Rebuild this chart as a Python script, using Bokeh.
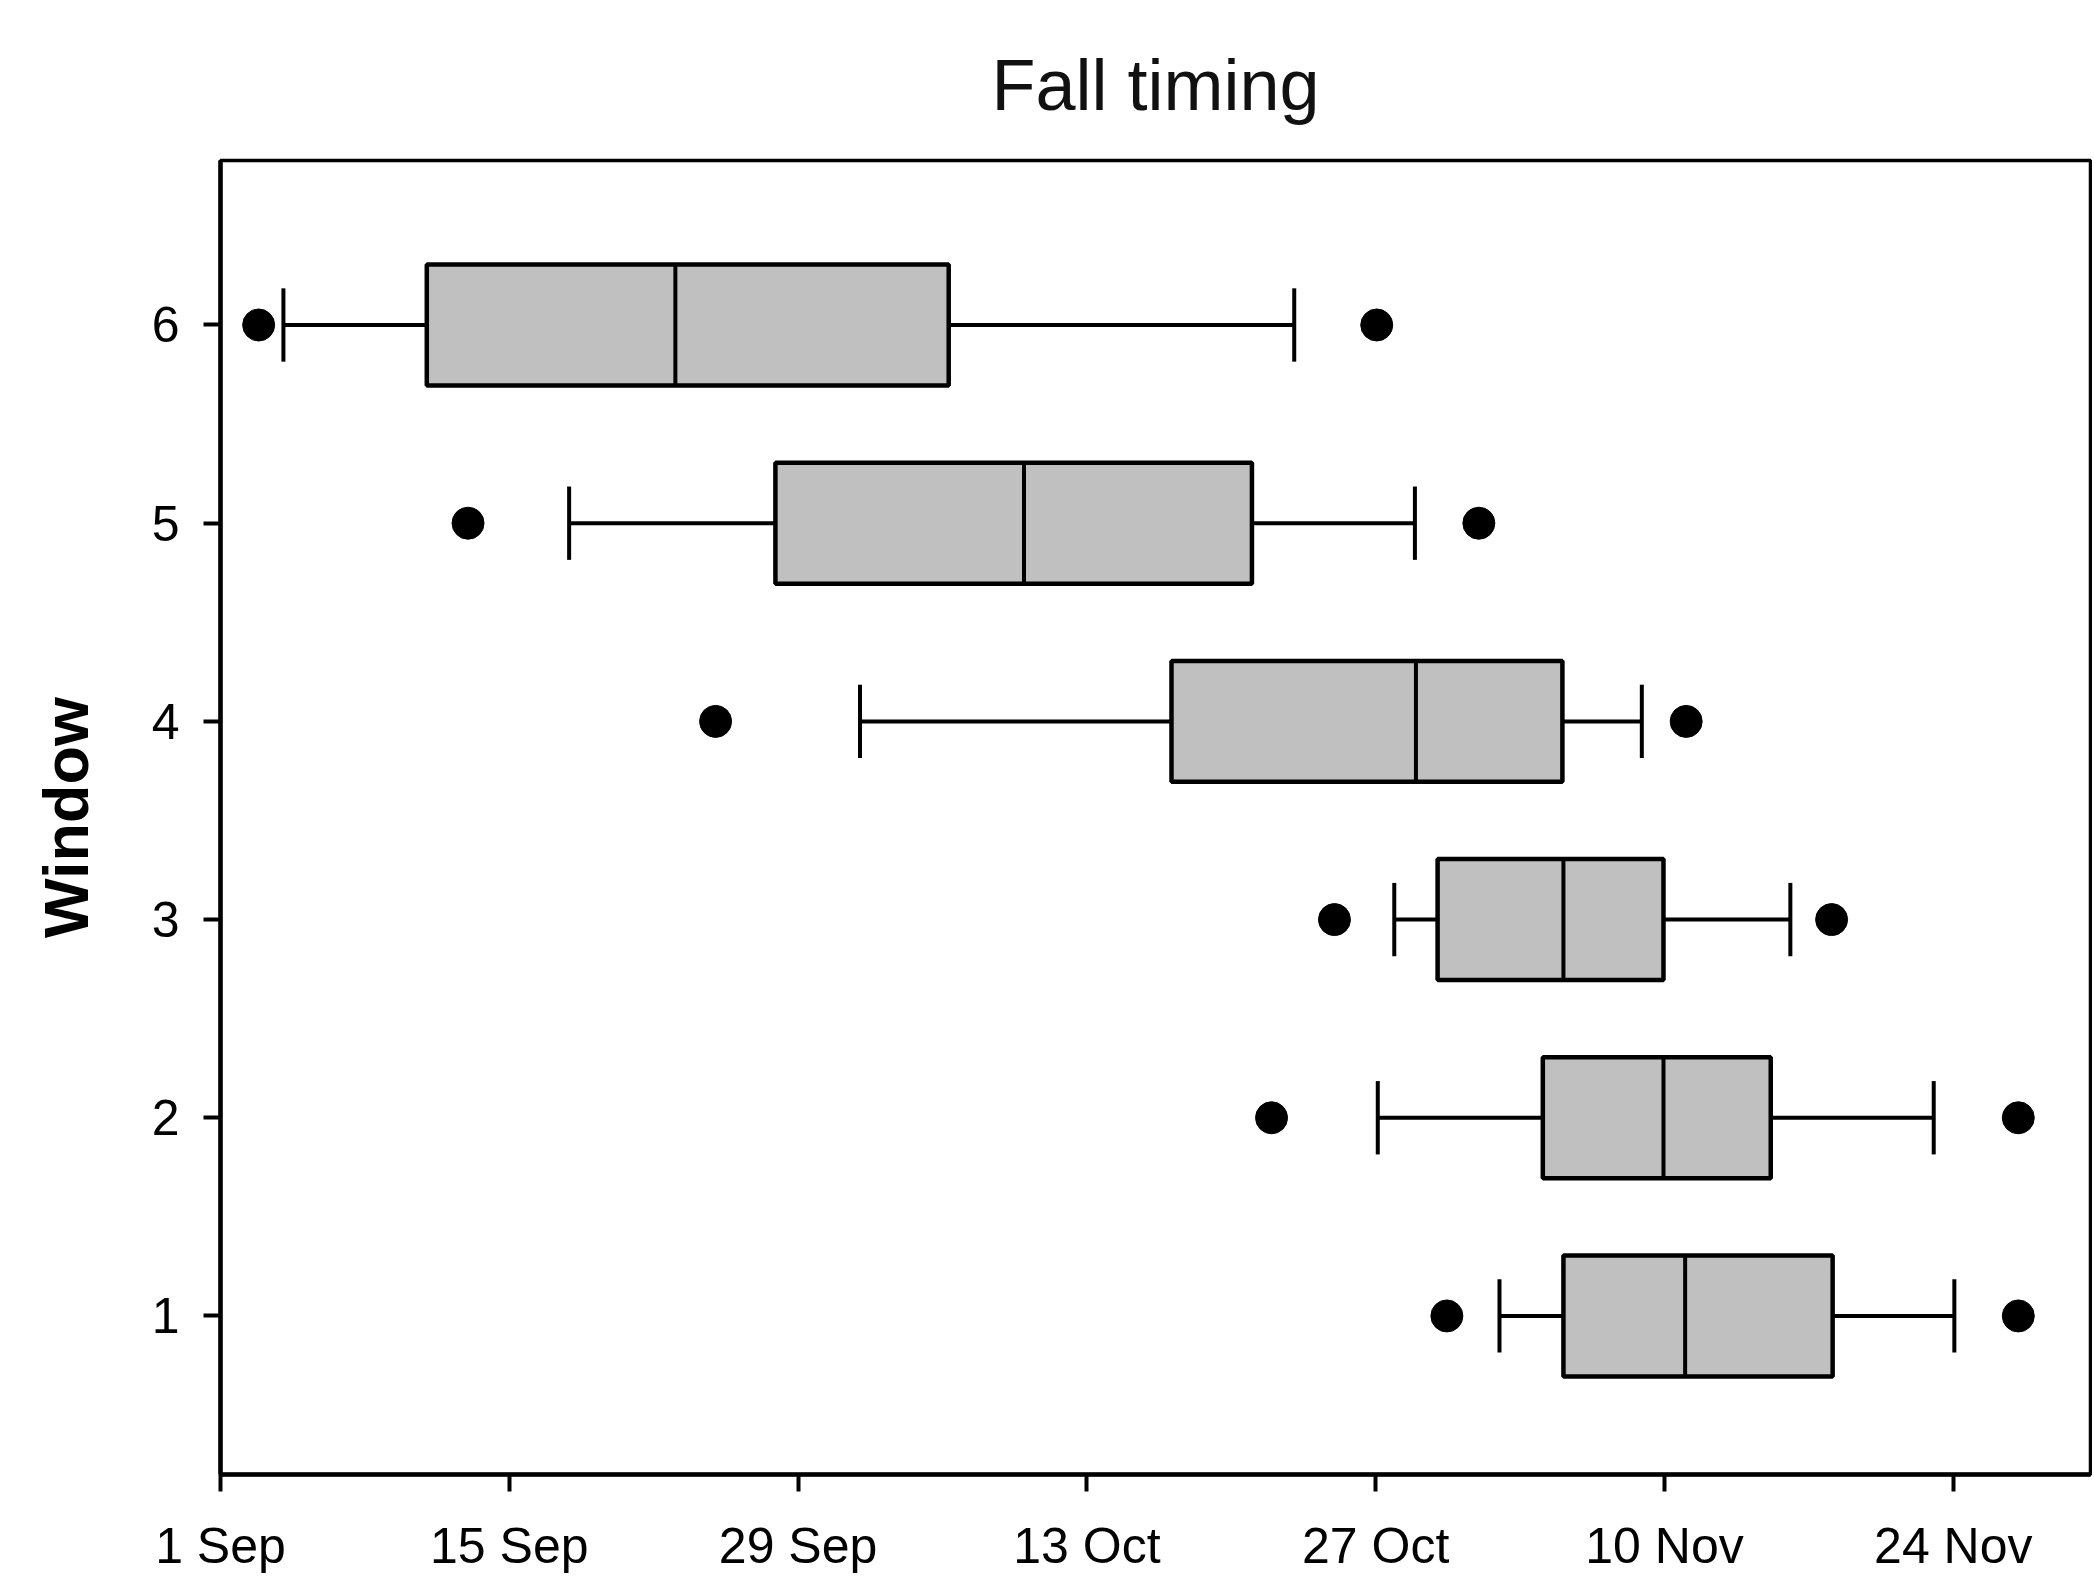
from bokeh.plotting import figure
from bokeh.models import Range1d, FixedTicker
from bokeh.embed import file_html
from bokeh.resources import INLINE

# Days counted from 1 Sep (day 0)
windows = [1, 2, 3, 4, 5, 6]
whisker_low = [62.0, 56.1, 56.9, 31.0, 16.9, 3.05]
q1 = [65.1, 64.1, 59.0, 46.1, 26.9, 10.0]
median = [71.0, 69.95, 65.1, 57.95, 38.95, 22.05]
q3 = [78.15, 75.15, 69.95, 65.05, 50.0, 35.3]
whisker_high = [84.05, 83.05, 76.1, 68.9, 57.9, 52.05]
outlier_low = [59.45, 50.95, 54.0, 24.0, 12.0, 1.85]
outlier_high = [87.15, 87.15, 78.1, 71.05, 61.0, 56.05]

tick_days = [0, 14, 28, 42, 56, 70, 84]
tick_labels = ["1 Sep", "15 Sep", "29 Sep", "13 Oct", "27 Oct", "10 Nov", "24 Nov"]
y_ticks = [1, 2, 3, 4, 5, 6]

BOX_H = 0.61
CAP_H = 0.37
FONT = "Liberation Sans"
LW = 4

p = figure(width=2092, height=1576, output_backend="svg", toolbar_location=None,
           x_range=Range1d(0, 90.65), y_range=Range1d(0.2, 6.83),
           min_border_left=220, min_border_right=2, min_border_top=160, min_border_bottom=101)

p.title.text = "Fall timing"
p.title.align = "center"
p.title.text_font = FONT
p.title.text_font_size = "72px"
p.title.text_font_style = "normal"
p.title.text_color = "#111111"
p.title.standoff = 72

p.grid.visible = False
p.background_fill_color = "white"
p.border_fill_color = "white"
p.outline_line_color = "black"
p.outline_line_width = 3.5
p.outline_line_alpha = 1

xa = p.xaxis[0]
xa.ticker = FixedTicker(ticks=tick_days)
xa.major_label_overrides = {d: l for d, l in zip(tick_days, tick_labels)}
ya = p.yaxis[0]
ya.ticker = FixedTicker(ticks=y_ticks)
ya.axis_label = "Window"
ya.axis_label_text_font = FONT
ya.axis_label_text_font_style = "bold"
ya.axis_label_text_font_size = "63px"
ya.axis_label_text_color = "black"
ya.axis_label_standoff = 48

for ax in (xa, ya):
    ax.axis_line_width = 4.5
    ax.axis_line_color = "black"
    ax.major_tick_line_width = 4
    ax.major_tick_line_color = "black"
    ax.major_tick_out = 17
    ax.major_tick_in = 0
    ax.minor_tick_line_color = None
    ax.major_label_text_font = FONT
    ax.major_label_text_font_size = "50px"
    ax.major_label_text_color = "black"
xa.major_label_standoff = 26
ya.major_label_standoff = 24

# whiskers
p.segment(x0=whisker_low, y0=windows, x1=q1, y1=windows, line_color="black", line_width=LW)
p.segment(x0=q3, y0=windows, x1=whisker_high, y1=windows, line_color="black", line_width=LW)
# caps
lo_y = [w - CAP_H / 2 for w in windows]
hi_y = [w + CAP_H / 2 for w in windows]
p.segment(x0=whisker_low, y0=lo_y, x1=whisker_low, y1=hi_y, line_color="black", line_width=LW)
p.segment(x0=whisker_high, y0=lo_y, x1=whisker_high, y1=hi_y, line_color="black", line_width=LW)
# boxes
p.hbar(y=windows, left=q1, right=q3, height=BOX_H, fill_color="#c0c0c0",
       line_color="black", line_width=4.5)
# medians
p.segment(x0=median, y0=[w - BOX_H / 2 for w in windows], x1=median,
          y1=[w + BOX_H / 2 for w in windows], line_color="black", line_width=LW)
# outliers
p.scatter(x=outlier_low, y=windows, size=32, marker="circle", fill_color="black", line_color="black")
p.scatter(x=outlier_high, y=windows, size=32, marker="circle", fill_color="black", line_color="black")

open("out.html", "w").write(file_html(p, INLINE))
